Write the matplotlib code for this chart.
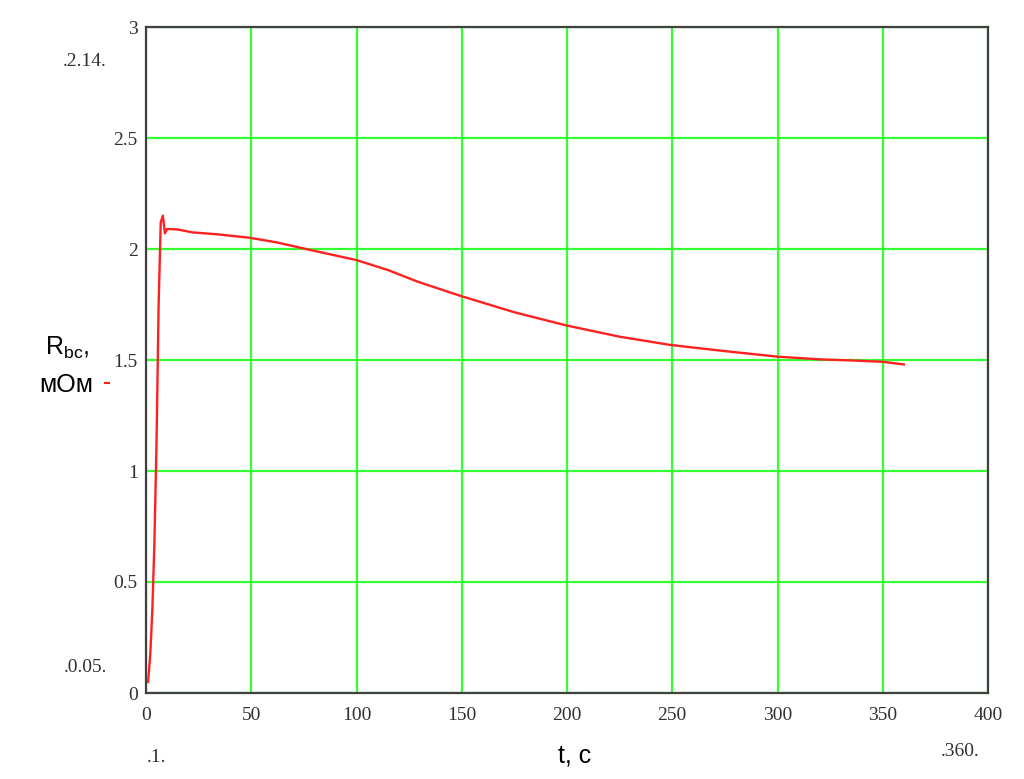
import matplotlib.pyplot as plt

# time, s
t = [1, 2, 3, 4, 5, 6, 7, 8, 9, 10, 11, 15, 22, 34, 49, 62, 76, 88, 100,
     115, 129, 149, 175, 200, 225, 249, 275, 300, 320, 335, 350, 360]
# resistance R_bc, mOhm
r_bc = [0.05, 0.17, 0.37, 0.68, 1.13, 1.75, 2.12, 2.15, 2.07, 2.09, 2.09,
        2.088, 2.075, 2.066, 2.051, 2.03, 2.0, 1.975, 1.95, 1.905, 1.853,
        1.79, 1.715, 1.655, 1.605, 1.568, 1.54, 1.515, 1.503, 1.498, 1.492, 1.48]

x_ticks = [0, 50, 100, 150, 200, 250, 300, 350, 400]
y_ticks = [0, 0.5, 1, 1.5, 2, 2.5, 3]

fig = plt.figure(figsize=(10.24, 7.79), dpi=100)
ax = fig.add_axes([146 / 1024, 86 / 779, 842 / 1024, 666 / 779])

ax.plot(t, r_bc, color="#ff2020", linewidth=1.7, zorder=3)

ax.set_xlim(0, 400)
ax.set_ylim(0, 3)
ax.set_xticks(x_ticks)
ax.set_yticks(y_ticks)
ax.set_xticklabels([str(v) for v in x_ticks])
ax.set_yticklabels(["0", "0.5", "1", "1.5", "2", "2.5", "3"])
ax.grid(True, color="#33ff33", linewidth=1.6)
ax.set_axisbelow(True)
ax.tick_params(length=0, labelsize=14, colors="#303030")
ax.tick_params(axis="x", pad=10)
ax.tick_params(axis="y", pad=6)
for lab in ax.get_xticklabels() + ax.get_yticklabels():
    lab.set_family("Liberation Serif")
for s in ax.spines.values():
    s.set_color("#404040")
    s.set_linewidth(1.6)

# Mathcad range markers
serif = dict(family="Liberation Serif", fontsize=14, color="#303030")
fig.text(85 / 1024, 1 - 62 / 779, ".2.14.", ha="center", va="center", **serif)
fig.text(85 / 1024, 1 - 668 / 779, ".0.05.", ha="center", va="center", **serif)
fig.text(156 / 1024, 1 - 757 / 779, ".1.", ha="center", va="center", **serif)
fig.text(960 / 1024, 1 - 752 / 779, ".360.", ha="center", va="center", **serif)

# axis labels
sans = dict(family="Liberation Sans", fontsize=18, color="black")
fig.text(67 / 1024, 1 - 348 / 779, r"R$_{\mathregular{bc}}$,", ha="center", va="center", **sans)
fig.text(66 / 1024, 1 - 385 / 779, "мОм", ha="center", va="center", **sans)
fig.add_artist(plt.Line2D([105 / 1024, 109 / 1024], [1 - 383 / 779, 1 - 383 / 779],
                          color="#ff2020", linewidth=1.5))
fig.text(575 / 1024, 1 - 755 / 779, "t, c", ha="center", va="center", **sans)

fig.savefig("out.png", dpi=100)
